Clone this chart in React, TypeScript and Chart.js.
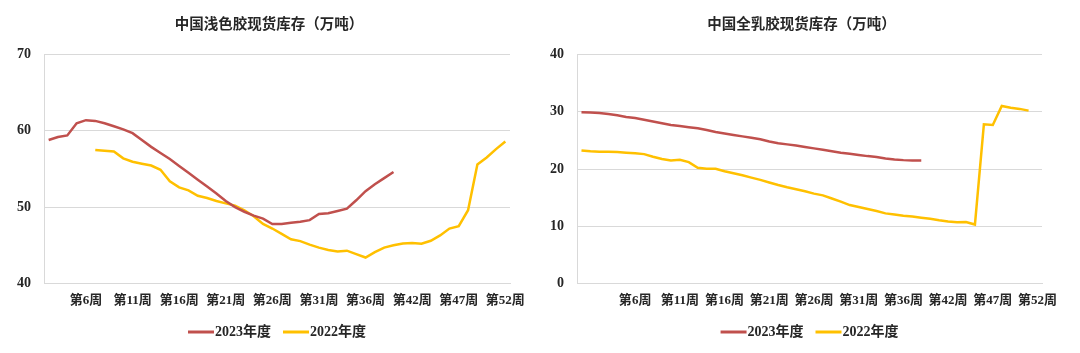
import React, { useEffect, useRef } from 'react';
import { Chart, registerables } from 'chart.js';

Chart.register(...registerables);

// ---------- data ----------
const leftTitle = '中国浅色胶现货库存（万吨）';
const rightTitle = '中国全乳胶现货库存（万吨）';
const seriesNames = ['2023年度', '2022年度'];

const leftWeeks = [
  '第2周', '第3周', '第4周', '第5周', '第6周', '第7周', '第8周', '第9周', '第10周', '第11周',
  '第12周', '第13周', '第14周', '第15周', '第16周', '第17周', '第18周', '第19周', '第20周', '第21周',
  '第22周', '第23周', '第24周', '第25周', '第26周', '第27周', '第28周', '第29周', '第30周', '第31周',
  '第32周', '第33周', '第34周', '第35周', '第36周', '第37周', '第38周', '第39周', '第40周', '第42周',
  '第43周', '第44周', '第45周', '第46周', '第47周', '第48周', '第49周', '第50周', '第51周', '第52周',
];

const rightWeeks = [
  '第0周', '第1周', '第2周', '第3周', '第4周', '第5周', '第6周', '第7周', '第8周', '第9周',
  '第10周', '第11周', '第12周', '第13周', '第14周', '第15周', '第16周', '第17周', '第18周', '第19周',
  '第20周', '第21周', '第22周', '第23周', '第24周', '第25周', '第26周', '第27周', '第28周', '第29周',
  '第30周', '第31周', '第32周', '第33周', '第34周', '第35周', '第36周', '第37周', '第38周', '第39周',
  '第40周', '第42周', '第43周', '第44周', '第45周', '第46周', '第47周', '第48周', '第49周', '第50周',
  '第51周', '第52周',
];

const shownWeeks = ['第6周', '第11周', '第16周', '第21周', '第26周', '第31周', '第36周', '第42周', '第47周', '第52周'];

const left2023 = [
  58.8, 59.2, 59.4, 61.0, 61.4, 61.3, 61.0, 60.6, 60.2, 59.7,
  58.8, 57.9, 57.1, 56.3, 55.4, 54.5, 53.6, 52.7, 51.8, 50.8,
  50.0, 49.4, 48.9, 48.5, 47.8, 47.8, 47.95, 48.1, 48.3, 49.1,
  49.2, 49.5, 49.8, 50.9, 52.1, 53.0, 53.8, 54.6,
  null, null, null, null, null, null, null, null, null, null, null, null,
];

const left2022 = [
  null, null, null, null, null,
  57.5, 57.4, 57.3, 56.4, 55.95, 55.7, 55.45, 54.9, 53.4, 52.6,
  52.2, 51.5, 51.2, 50.8, 50.5, 50.2, 49.6, 48.8, 47.8, 47.2,
  46.5, 45.8, 45.55, 45.1, 44.7, 44.4, 44.2, 44.3, 43.85, 43.4,
  44.1, 44.7, 45.0, 45.25, 45.3, 45.2, 45.6, 46.3, 47.2, 47.5,
  49.6, 55.6, 56.5, 57.6, 58.6,
];

const right2023 = [
  29.9, 29.85, 29.8, 29.6, 29.4, 29.1, 28.9, 28.6, 28.3, 28.0,
  27.7, 27.5, 27.3, 27.1, 26.8, 26.45, 26.2, 25.95, 25.7, 25.45,
  25.2, 24.8, 24.5, 24.3, 24.1, 23.85, 23.6, 23.35, 23.1, 22.85,
  22.65, 22.45, 22.25, 22.1, 21.85, 21.65, 21.55, 21.5, 21.5,
  null, null, null, null, null, null, null, null, null, null, null, null, null,
];

const right2022 = [
  23.25, 23.1, 23.0, 23.0, 22.95, 22.85, 22.75, 22.6, 22.15, 21.75,
  21.5, 21.6, 21.2, 20.2, 20.05, 20.05, 19.6, 19.25, 18.9, 18.5,
  18.1, 17.65, 17.2, 16.8, 16.45, 16.1, 15.7, 15.4, 14.85, 14.3,
  13.7, 13.35, 13.0, 12.65, 12.25, 12.05, 11.85, 11.7, 11.5, 11.3,
  11.05, 10.85, 10.7, 10.75, 10.3, 27.8, 27.7, 31.0, 30.7, 30.5,
  30.2, null,
];

// ---------- styles ----------
const RED = '#C0504D';
const YELLOW = '#FFC000';
const GRID = '#D9D9D9';
const TEXT = '#262626';
const FONT = "'Liberation Serif', 'Noto Sans CJK SC', serif";

// legend marker: a short line drawn on a small canvas, placed so it ends right before the text
function legendLine(color: string) {
  const c = document.createElement('canvas');
  c.width = 36;
  c.height = 4;
  const ctx = c.getContext('2d');
  if (ctx) {
    ctx.strokeStyle = color;
    ctx.lineWidth = 3;
    ctx.beginPath();
    ctx.moveTo(8, 2);
    ctx.lineTo(34, 2);
    ctx.stroke();
  }
  return c;
}

// title drawn as canvas text, centred where the reference centres it
const titlePlugin = {
  id: 'sheetTitle',
  afterDraw(chart: any, _args: any, opts: any) {
    const ctx = chart.ctx;
    ctx.save();
    ctx.font = `bold 14.5px ${FONT}`;
    ctx.fillStyle = TEXT;
    ctx.textAlign = 'center';
    ctx.textBaseline = 'middle';
    ctx.fillText(opts.text, opts.x, opts.y);
    ctx.restore();
  },
};

function makeConfig(
  title: string,
  titleX: number,
  weeks: string[],
  a: (number | null)[],
  b: (number | null)[],
  yMin: number,
  yMax: number,
  axisWidth: number,
  padRight: number,
) {
  return {
    type: 'line' as const,
    data: {
      labels: weeks,
      datasets: [
        {
          label: seriesNames[0],
          data: a,
          borderColor: RED,
          backgroundColor: RED,
          borderWidth: 2.5,
          pointRadius: 0,
          pointStyle: legendLine(RED),
          tension: 0,
        },
        {
          label: seriesNames[1],
          data: b,
          borderColor: YELLOW,
          backgroundColor: YELLOW,
          borderWidth: 2.5,
          pointRadius: 0,
          pointStyle: legendLine(YELLOW),
          tension: 0,
        },
      ],
    },
    plugins: [titlePlugin],
    options: {
      responsive: false,
      animation: false as const,
      layout: { padding: { left: 0, right: padRight, top: 54.5, bottom: 4 } },
      plugins: {
        tooltip: { enabled: false },
        title: { display: false },
        sheetTitle: { text: title, x: titleX, y: 25 },
        legend: {
          position: 'bottom' as const,
          fullSize: false,
          labels: {
            usePointStyle: true,
            pointStyleWidth: 20,
            boxHeight: 14,
            padding: 12,
            color: TEXT,
            font: { family: FONT, size: 14, weight: 'bold' as const },
          },
        },
      },
      scales: {
        x: {
          type: 'category' as const,
          offset: true,
          grid: { display: false, drawTicks: false },
          border: { display: true, color: GRID, width: 1 },
          ticks: {
            autoSkip: false,
            maxRotation: 0,
            minRotation: 0,
            padding: 9,
            color: TEXT,
            font: { family: FONT, size: 13, weight: 'bold' as const },
            callback: (_v: any, i: number) => (shownWeeks.includes(weeks[i]) ? weeks[i] : ''),
          },
          afterFit: (s: any) => {
            s.height = 29.5;
          },
        },
        y: {
          min: yMin,
          max: yMax,
          grid: { color: GRID, drawTicks: false },
          border: { display: true, color: GRID, width: 1 },
          ticks: {
            stepSize: 10,
            padding: 13,
            color: TEXT,
            font: { family: FONT, size: 14, weight: 'bold' as const },
          },
          afterFit: (s: any) => {
            s.width = axisWidth;
          },
        },
      },
    },
  };
}

function LineChart(props: { cfg: any; left: number }) {
  const ref = useRef<HTMLCanvasElement>(null);
  useEffect(() => {
    if (!ref.current) return;
    const chart = new Chart(ref.current, props.cfg);
    return () => chart.destroy();
  }, []);
  return (
    <canvas
      ref={ref}
      width={540}
      height={353}
      style={{ position: 'absolute', left: props.left, top: 0, width: 540, height: 353 }}
    />
  );
}

export default function App() {
  const leftCfg = makeConfig(leftTitle, 269, leftWeeks, left2023, left2022, 40, 70, 44, 30);
  const rightCfg = makeConfig(rightTitle, 261.5, rightWeeks, right2023, right2022, 0, 40, 37, 38);
  return (
    <div style={{ position: 'absolute', left: 0, top: 0, width: 1080, height: 353, background: '#fff' }}>
      <LineChart cfg={leftCfg} left={0} />
      <LineChart cfg={rightCfg} left={540} />
    </div>
  );
}
